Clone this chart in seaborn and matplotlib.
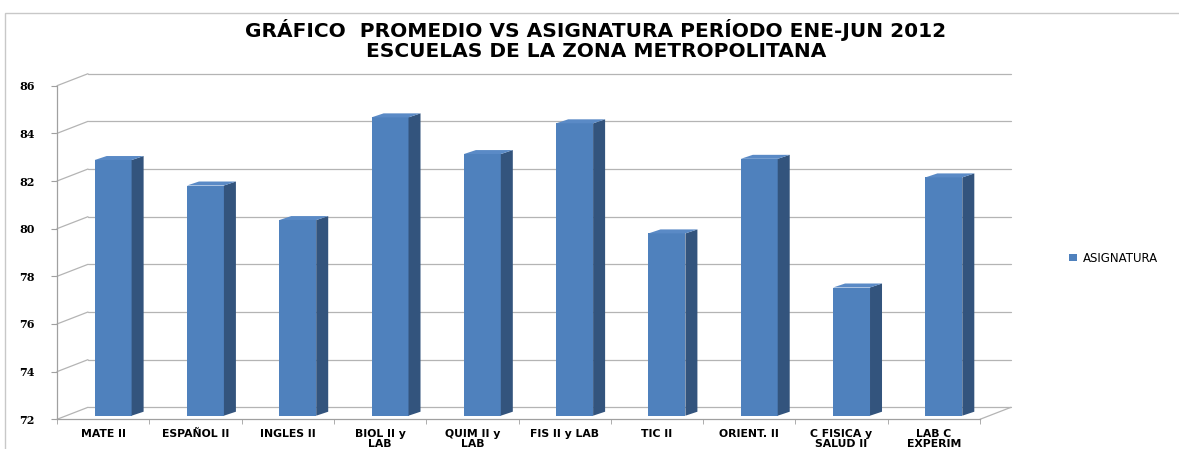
import matplotlib
matplotlib.use("Agg")
import matplotlib.pyplot as plt
import matplotlib.patches as mpatches
import seaborn as sns
import pandas as pd

# data
asignaturas = ["MATE II", "ESPAÑOL II", "INGLES II", "BIOL II y\nLAB", "QUIM II y\nLAB",
               "FIS II y LAB", "TIC II", "ORIENT. II", "C FISICA y\nSALUD II", "LAB C\nEXPERIM"]
promedios = [82.73, 81.66, 80.21, 84.52, 82.98, 84.27, 79.65, 82.78, 77.38, 82.0]
y_ticks = [72, 74, 76, 78, 80, 82, 84, 86]
serie = "ASIGNATURA"

df = pd.DataFrame({"asignatura": asignaturas, "promedio": promedios})

W, H = 1179, 449
sns.set_style("white")
plt.rcParams["font.family"] = ["DejaVu Sans"]
plt.rcParams["text.color"] = "black"
plt.rcParams["xtick.labelcolor"] = "black"
plt.rcParams["ytick.labelcolor"] = "black"

fig = plt.figure(figsize=(W / 100, H / 100), dpi=100)
# front plane of the 3d box, in pixels
left_px, right_px, top_px, bot_px = 57, 980, 85.7, 419.3
ax = fig.add_axes([left_px / W, (H - bot_px) / H, (right_px - left_px) / W, (bot_px - top_px) / H])

front = "#4F81BD"
side = "#33547D"
topc = "#5A8AC6"
grid = "#B4B4B4"

sns.barplot(data=df, x="asignatura", y="promedio", color=front, width=0.4,
            saturation=1, label=serie, ax=ax, zorder=3)
ax.set_xlim(-0.5, len(asignaturas) - 0.5)
ax.set_ylim(y_ticks[0], y_ticks[-1])

ppx = (right_px - left_px) / (len(asignaturas))
ppy = (bot_px - top_px) / (y_ticks[-1] - y_ticks[0])
dx = lambda p: p / ppx
dy = lambda p: p / ppy

floor = y_ticks[0]
# bars sit a bit inside the box, then get a side and top face
for p in ax.patches:
    top_val = p.get_height()
    p.set_x(p.get_x() + dx(10))
    p.set_y(floor + dy(3.6))
    p.set_height(top_val - floor)
    p.set_edgecolor("none")
    p.set_clip_on(False)
    x0, x1 = p.get_x(), p.get_x() + p.get_width()
    yb, yt = p.get_y(), p.get_y() + p.get_height()
    ax.add_patch(mpatches.Polygon([(x1, yb), (x1, yt), (x1 + dx(12), yt + dy(4)), (x1 + dx(12), yb + dy(4))],
                                  closed=True, facecolor=side, edgecolor="none", zorder=3, clip_on=False))
    ax.add_patch(mpatches.Polygon([(x0, yt), (x1, yt), (x1 + dx(12), yt + dy(4)), (x0 + dx(12), yt + dy(4))],
                                  closed=True, facecolor=topc, edgecolor="none", zorder=3, clip_on=False))

# back wall, side wall and floor lines
xl, xr = -0.5, len(asignaturas) - 0.5
for t in y_ticks:
    ax.plot([xl + dx(31), xr + dx(31)], [t + dy(12), t + dy(12)], color=grid, lw=0.9, zorder=1, clip_on=False)
    ax.plot([xl, xl + dx(31)], [t, t + dy(12)], color=grid, lw=0.9, zorder=1, clip_on=False)
ax.plot([xr, xr + dx(31)], [floor, floor + dy(12)], color=grid, lw=0.9, zorder=1, clip_on=False)

for s in ["top", "right"]:
    ax.spines[s].set_visible(False)
for s in ["left", "bottom"]:
    ax.spines[s].set_color("#A0A0A0")
    ax.spines[s].set_linewidth(0.9)

ax.set_yticks(y_ticks)
ax.set_yticklabels([str(t) for t in y_ticks], fontsize=8, fontweight="bold", family="DejaVu Serif")
ax.set_xticks(range(len(asignaturas)))
ax.set_xticklabels(asignaturas, fontsize=7.8, fontweight="bold", linespacing=1.0)
ax.set_xticks([i - 0.5 for i in range(len(asignaturas) + 1)], minor=True)
ax.tick_params(axis="x", which="major", length=0, pad=7)
ax.tick_params(axis="x", which="minor", length=3.5, color="#A0A0A0", direction="out", bottom=True)
ax.tick_params(axis="y", length=4, color="#A0A0A0", direction="out", left=True, pad=12)
ax.set_xlabel("")
ax.set_ylabel("")

ax.legend(loc="center left", bbox_to_anchor=(1058 / W, (H - 258) / H), bbox_transform=fig.transFigure,
          frameon=False, fontsize=8.5, handlelength=0.7, handleheight=0.5, handletextpad=0.5)

fig.text(596 / W, (H - 40) / H, "GRÁFICO  PROMEDIO VS ASIGNATURA PERÍODO ENE-JUN 2012\nESCUELAS DE LA ZONA METROPOLITANA",
         ha="center", va="center", fontsize=14.5, fontweight="bold", linespacing=1.05, color="black")

fig.add_artist(mpatches.Rectangle((5 / W, -0.1), 1.2, (H - 13) / H + 0.1, transform=fig.transFigure,
                                  fill=False, edgecolor="#C8C8C8", lw=1))

fig.savefig("out.png", dpi=100)
